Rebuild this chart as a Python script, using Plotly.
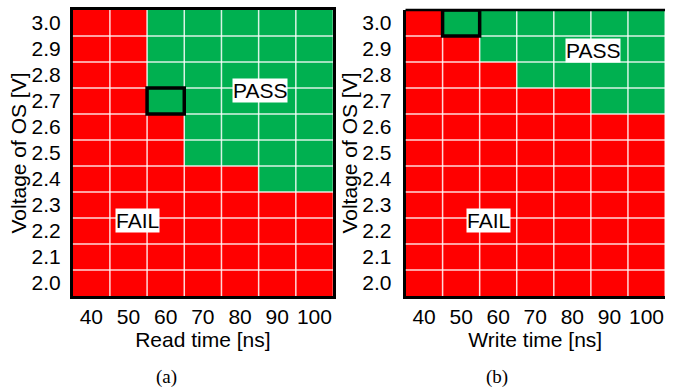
import plotly.graph_objects as go

# Shmoo data: 1 = PASS, 0 = FAIL
times = [40, 50, 60, 70, 80, 90, 100]
voltages = [2.0, 2.1, 2.2, 2.3, 2.4, 2.5, 2.6, 2.7, 2.8, 2.9, 3.0]
time_labels = ["40", "50", "60", "70", "80", "90", "100"]
volt_labels = ["2.0", "2.1", "2.2", "2.3", "2.4", "2.5", "2.6", "2.7", "2.8", "2.9", "3.0"]

# rows ordered from 2.0 V (bottom) to 3.0 V (top)
read_pass = [
    [0, 0, 0, 0, 0, 0, 0],
    [0, 0, 0, 0, 0, 0, 0],
    [0, 0, 0, 0, 0, 0, 0],
    [0, 0, 0, 0, 0, 0, 0],
    [0, 0, 0, 0, 0, 1, 1],
    [0, 0, 0, 1, 1, 1, 1],
    [0, 0, 0, 1, 1, 1, 1],
    [0, 0, 1, 1, 1, 1, 1],
    [0, 0, 1, 1, 1, 1, 1],
    [0, 0, 1, 1, 1, 1, 1],
    [0, 0, 1, 1, 1, 1, 1],
]
write_pass = [
    [0, 0, 0, 0, 0, 0, 0],
    [0, 0, 0, 0, 0, 0, 0],
    [0, 0, 0, 0, 0, 0, 0],
    [0, 0, 0, 0, 0, 0, 0],
    [0, 0, 0, 0, 0, 0, 0],
    [0, 0, 0, 0, 0, 0, 0],
    [0, 0, 0, 0, 0, 0, 0],
    [0, 0, 0, 0, 0, 1, 1],
    [0, 0, 0, 1, 1, 1, 1],
    [0, 0, 1, 1, 1, 1, 1],
    [0, 1, 1, 1, 1, 1, 1],
]
# selected operating points (time, voltage)
read_point = (60, 2.7)
write_point = (50, 3.0)

RED = "#FF0000"
GREEN = "#00B050"
FONT = "Liberation Sans, Arial, sans-serif"
FS = 21

fig = go.Figure()
panels = [
    ("x", "y", read_pass, read_point),
    ("x2", "y2", write_pass, write_point),
]
for xa, ya, z, pt in panels:
    fig.add_trace(go.Heatmap(
        x=times, y=voltages, z=z, xaxis=xa, yaxis=ya,
        colorscale=[[0, RED], [0.5, RED], [0.5, GREEN], [1, GREEN]],
        zmin=0, zmax=1, showscale=False, hoverinfo="skip",
    ))

dx = times[1] - times[0]
dy = round(voltages[1] - voltages[0], 3)
shapes = []
grid_line = dict(color="rgba(255,255,255,0.85)", width=1.5)
for xa, ya, z, pt in panels:
    # white cell separators
    for t in times[:-1]:
        shapes.append(dict(type="line", xref=xa, yref=ya,
                           x0=t + dx / 2, x1=t + dx / 2,
                           y0=voltages[0] - dy / 2, y1=voltages[-1] + dy / 2,
                           line=grid_line, layer="above"))
    for v in voltages[:-1]:
        shapes.append(dict(type="line", xref=xa, yref=ya,
                           x0=times[0] - dx / 2, x1=times[-1] + dx / 2,
                           y0=v + dy / 2, y1=v + dy / 2,
                           line=grid_line, layer="above"))
    # highlighted cell
    shapes.append(dict(type="rect", xref=xa, yref=ya,
                       x0=pt[0] - dx / 2, x1=pt[0] + dx / 2,
                       y0=pt[1] - dy / 2, y1=pt[1] + dy / 2,
                       line=dict(color="black", width=3.5), layer="above"))

# top border of the right panel (its right edge is open)
shapes.append(dict(type="line", xref="x2 domain", yref="y2 domain", x0=0, x1=1, y0=1, y1=1,
                   line=dict(color="black", width=2.5), layer="above"))

y_dom = [0.2371, 0.9742]
tfont = dict(family=FONT, size=FS, color="black")
axis_common = dict(showgrid=False, zeroline=False, ticks="", tickfont=tfont,
                   showline=True, linecolor="black", linewidth=2.5)

xr = [times[0] - dx / 2, times[-1] + dx / 2]
yr = [voltages[0] - dy / 2, voltages[-1] + dy / 2]

fig.update_layout(
    width=677, height=388,
    margin=dict(l=0, r=0, t=0, b=0),
    paper_bgcolor="white", plot_bgcolor="white",
    showlegend=False,
    shapes=shapes,
    xaxis=dict(domain=[0.1074, 0.4919], range=xr, tickvals=times, ticktext=time_labels,
               mirror=True, anchor="y",
               title=dict(text="Read time [ns]", font=tfont, standoff=2),
               **axis_common),
    yaxis=dict(domain=y_dom, range=yr, tickvals=voltages, ticktext=volt_labels,
               mirror=True, anchor="x", ticklabelstandoff=5,
               title=dict(text="Voltage of OS [V]", font=tfont, standoff=0),
               **axis_common),
    xaxis2=dict(domain=[0.599, 0.9823], range=xr, tickvals=times, ticktext=time_labels,
                mirror=False, anchor="y2",
                title=dict(text="Write time [ns]", font=tfont, standoff=2),
                **axis_common),
    yaxis2=dict(domain=y_dom, range=yr, tickvals=voltages, ticktext=volt_labels,
                mirror=False, anchor="x2", ticklabelstandoff=7,
                title=dict(text="Voltage of OS [V]", font=tfont, standoff=0),
                **axis_common),
)

annotations = [
    dict(x=85.3, y=2.742, xref="x", yref="y", text="PASS"),
    dict(x=52.5, y=2.242, xref="x", yref="y", text="FAIL"),
    dict(x=85.5, y=2.896, xref="x2", yref="y2", text="PASS"),
    dict(x=57.4, y=2.242, xref="x2", yref="y2", text="FAIL"),
]
for a in annotations:
    fig.add_annotation(**a, showarrow=False, font=tfont, bgcolor="white", borderpad=0)

serif = dict(family="Liberation Serif, Times New Roman, serif", size=19, color="black")
fig.add_annotation(x=166 / 677, y=1 - 377 / 388, xref="paper", yref="paper",
                   xanchor="center", yanchor="middle",
                   text="(a)", showarrow=False, font=serif)
fig.add_annotation(x=497 / 677, y=1 - 377 / 388, xref="paper", yref="paper",
                   xanchor="center", yanchor="middle",
                   text="(b)", showarrow=False, font=serif)

fig.write_html("out.html")
